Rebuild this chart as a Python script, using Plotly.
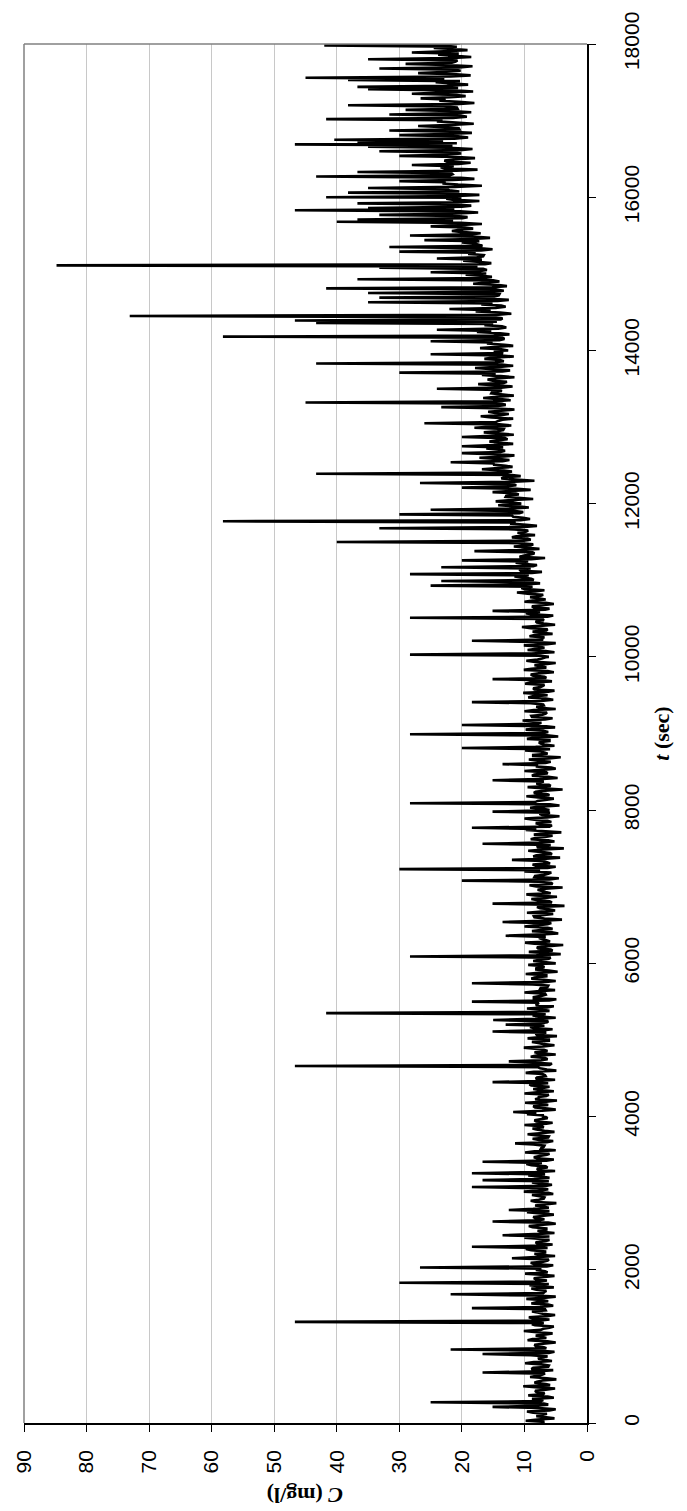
import numpy as np
import plotly.graph_objects as go

# Sampling: main readings every 30 s; intermediate readings 15 s later
T_STEP = 30
T_MID = 15

# C (mg/l) main readings, one list per 2000 s block
c_0000 = [7.5, 9.8, 5.2, 8.1, 6.4, 9.6, 5.0, 15.1, 6.2, 25.0, 7.0, 5.3, 9.4, 6.8, 8.3, 5.1, 10.2, 6.6, 8.0, 4.9,
          9.1, 7.2, 16.7, 5.4, 8.6, 6.1, 9.9, 5.6, 7.8, 6.3, 16.7, 5.2, 21.8, 6.9, 8.4, 5.0, 9.5, 6.5, 8.2, 5.5,
          10.1, 7.0, 5.3, 8.8, 46.7, 6.0, 9.3, 5.1, 7.7, 6.6, 18.4, 5.4, 8.9, 6.2, 9.7, 5.0, 21.8, 6.8, 8.1, 5.3,
          9.2, 30.0, 6.4, 8.5, 5.2, 9.9, 6.7]
c_2000 = [8.0, 26.7, 5.4, 9.0, 6.3, 12.0, 5.1, 8.4, 6.7, 9.8, 18.4, 5.5, 8.2, 6.0, 10.0, 13.5, 5.2, 7.9, 6.5, 9.3,
          5.0, 15.1, 6.8, 8.6, 5.3, 9.6, 12.5, 6.1, 8.3, 4.9, 9.0, 6.9, 7.6, 5.4, 10.1, 6.2, 18.4, 5.6, 8.8, 16.7,
          6.0, 9.4, 18.4, 5.1, 8.0, 6.6, 9.7, 16.7, 5.3, 8.5, 6.4, 9.9, 5.0, 7.3, 6.8, 11.5, 5.4, 8.7, 6.1, 9.5,
          5.2, 8.1, 6.9, 10.0, 5.5, 8.4, 6.3]
c_4000 = [7.2, 9.6, 11.8, 5.0, 8.3, 6.2, 9.9, 4.8, 7.7, 6.5, 10.0, 5.3, 8.6, 6.0, 9.2, 15.1, 5.1, 8.0, 6.7, 9.8,
          4.9, 7.5, 46.7, 5.6, 12.5, 6.3, 9.0, 5.0, 8.4, 6.9, 10.1, 5.2, 7.8, 6.1, 9.5, 4.8, 8.2, 15.1, 5.5, 9.1,
          13.0, 6.4, 15.0, 5.0, 8.7, 41.7, 6.0, 9.6, 5.3, 7.9, 18.4, 4.9, 8.5, 6.6, 10.0, 5.1, 7.4, 6.2, 18.4, 5.0,
          8.9, 6.5, 9.8, 4.7, 8.1, 6.8, 9.4]
c_6000 = [5.0, 8.6, 6.1, 28.3, 4.2, 9.3, 5.8, 8.0, 3.8, 9.9, 6.5, 7.7, 13.0, 4.6, 8.8, 5.5, 10.0, 6.3, 13.5, 4.0,
          8.4, 6.8, 9.6, 5.1, 7.5, 3.6, 15.1, 6.0, 8.9, 4.8, 9.7, 6.6, 7.9, 3.9, 9.2, 5.7, 20.0, 4.5, 8.3, 6.2,
          10.0, 30.0, 5.0, 8.7, 6.4, 12.0, 4.3, 8.1, 5.9, 9.4, 3.7, 7.8, 16.7, 5.2, 9.0, 6.7, 8.5, 4.1, 9.8, 18.4,
          5.6, 8.2, 6.3, 10.0, 4.4, 7.6, 15.1]
c_8000 = [6.0, 9.1, 4.4, 28.3, 7.9, 5.3, 9.7, 6.5, 8.2, 3.9, 9.5, 6.1, 7.6, 15.1, 4.7, 8.8, 6.3, 10.0, 5.0, 8.0,
          13.5, 5.8, 9.3, 4.2, 8.6, 6.7, 9.9, 20.0, 5.2, 7.4, 6.0, 9.6, 4.6, 28.3, 6.2, 9.8, 5.1, 20.0, 7.3, 10.3,
          5.5, 8.9, 6.6, 10.0, 5.0, 8.1, 7.0, 18.4, 5.4, 9.4, 6.3, 10.2, 5.2, 8.6, 7.1, 9.9, 5.6, 15.1, 6.8, 9.0,
          5.3, 10.1, 6.5, 8.4, 5.0, 9.7, 7.2]
c_10000 = [6.1, 28.3, 5.2, 9.5, 6.8, 10.1, 5.0, 18.4, 7.4, 9.2, 5.5, 8.7, 6.3, 10.4, 5.1, 8.0, 6.9, 28.3, 5.4, 9.8,
           15.1, 6.0, 8.8, 5.3, 10.0, 6.6, 9.1, 7.0, 11.2, 6.8, 10.5, 25.0, 7.5, 23.3, 8.9, 11.6, 28.3, 7.2, 10.8, 23.3,
           8.0, 11.4, 20.0, 6.7, 10.2, 8.4, 18.0, 7.6, 11.7, 8.6, 40.0, 9.0, 12.0, 8.3, 11.1, 9.4, 33.2, 8.0, 12.3, 58.2,
           9.1, 11.8, 30.0, 10.2, 25.0, 9.3, 14.2]
c_12000 = [10.5, 14.6, 8.6, 13.0, 10.9, 15.1, 9.0, 20.0, 11.3, 26.7, 8.4, 13.7, 10.6, 43.3, 12.0, 16.8, 11.9, 15.0, 21.8, 12.4,
           17.2, 11.6, 20.0, 13.1, 16.1, 20.0, 11.8, 15.6, 12.7, 20.0, 11.7, 16.5, 13.4, 18.0, 12.1, 26.0, 14.2, 11.8, 17.0, 12.5,
           15.8, 11.6, 23.3, 13.0, 45.0, 12.2, 16.6, 11.7, 15.3, 13.6, 24.0, 11.9, 17.4, 12.8, 15.9, 11.6, 16.8, 30.0, 12.3, 17.9,
           11.8, 43.3, 13.3, 16.4, 11.7, 25.0, 14.0]
c_14000 = [12.6, 17.1, 11.8, 16.0, 25.0, 13.2, 58.2, 12.4, 17.6, 24.0, 12.9, 16.4, 43.3, 46.7, 13.5, 73.1, 12.1, 17.8, 22.0, 13.0,
           16.9, 35.0, 12.5, 33.2, 14.1, 35.0, 13.3, 41.7, 12.8, 18.2, 14.0, 36.7, 15.2, 19.4, 25.0, 16.0, 33.2, 84.8, 15.3, 19.8,
           24.0, 16.6, 19.0, 30.0, 15.1, 31.6, 17.3, 20.0, 26.0, 15.5, 28.3, 17.0, 21.6, 18.2, 25.0, 16.8, 40.0, 36.7, 19.1, 33.2,
           17.4, 46.7, 35.0, 18.5, 36.7, 17.2, 22.5]
c_16000 = [41.7, 17.2, 38.2, 22.0, 35.0, 16.8, 23.1, 30.0, 18.0, 43.3, 21.5, 36.7, 17.5, 23.4, 28.0, 18.6, 22.8, 17.9, 30.0, 20.1,
           33.2, 18.3, 35.0, 46.7, 36.7, 40.4, 19.0, 30.0, 18.4, 31.6, 20.5, 27.0, 18.1, 24.0, 41.7, 19.2, 31.6, 18.5, 29.0, 20.8,
           38.2, 18.0, 23.6, 26.6, 19.4, 28.0, 18.2, 35.0, 36.7, 19.0, 24.2, 38.2, 45.0, 18.6, 27.0, 20.2, 33.2, 18.3, 29.0, 21.0,
           35.0, 18.5, 23.8, 28.0, 19.1, 24.5, 42.0, 20.3]

# C (mg/l) intermediate readings (15 s after each main reading)
m_0000 = [6.8, 7.9, 6.5, 7.2, 8.6, 6.0, 7.7, 8.3, 6.9, 7.4, 8.8, 6.3, 7.0, 8.1, 6.6, 7.8, 5.9, 8.4, 7.1, 6.4,
          8.0, 6.7, 7.5, 8.9, 6.2, 7.3, 8.5, 6.8, 7.6, 9.0, 6.1, 7.9, 6.5, 8.2, 7.0, 6.3, 8.7, 7.2, 6.6, 8.0,
          7.4, 6.0, 8.3, 6.9, 7.7, 8.6, 6.4, 7.1, 8.8, 6.7, 7.5, 6.2, 8.1, 7.3, 6.6, 8.4, 7.0, 6.5, 8.9, 7.6,
          6.1, 7.8, 8.2, 6.8, 7.4, 6.3, 8.0]
m_2000 = [7.3, 6.4, 8.5, 7.0, 6.1, 8.2, 7.6, 6.7, 8.9, 6.3, 7.1, 8.0, 6.6, 7.8, 6.0, 8.4, 7.2, 6.5, 8.7, 7.5,
          6.2, 7.9, 8.3, 6.9, 7.4, 6.0, 8.6, 7.1, 6.4, 8.1, 7.7, 6.8, 8.8, 6.2, 7.3, 8.0, 6.6, 7.5, 6.1, 8.5,
          7.0, 6.7, 8.2, 7.8, 6.3, 8.9, 7.2, 6.5, 8.0, 7.6, 6.0, 8.4, 7.4, 6.9, 8.6, 6.4, 7.7, 6.2, 8.3, 7.1,
          6.8, 8.7, 7.3, 6.5, 8.1, 7.5, 6.6]
m_4000 = [6.9, 8.1, 7.2, 6.3, 8.6, 7.0, 6.5, 8.3, 7.7, 6.1, 8.0, 7.4, 6.8, 8.9, 6.2, 7.6, 8.2, 6.6, 7.1, 8.5,
          6.4, 7.9, 6.0, 8.7, 7.3, 6.7, 8.1, 7.5, 6.3, 8.4, 7.0, 6.9, 8.8, 6.1, 7.8, 8.0, 6.5, 7.2, 8.6, 6.8,
          7.6, 6.2, 8.3, 7.4, 6.6, 8.9, 7.1, 6.4, 8.2, 7.7, 6.0, 8.5, 7.3, 6.7, 8.0, 7.5, 6.3, 8.7, 7.0, 6.9,
          8.4, 6.5, 7.8, 6.1, 8.1, 7.2, 6.6]
m_6000 = [6.5, 7.6, 5.8, 8.1, 6.9, 5.5, 7.8, 6.2, 8.4, 5.9, 7.1, 6.6, 8.0, 5.6, 7.4, 6.3, 8.2, 5.7, 7.0, 6.8,
          8.5, 5.4, 7.3, 6.1, 8.0, 6.7, 5.6, 7.9, 6.4, 8.3, 5.8, 7.2, 6.6, 8.1, 5.5, 7.7, 6.0, 8.4, 6.9, 5.7,
          7.5, 6.3, 8.2, 5.9, 7.0, 6.5, 8.6, 5.6, 7.4, 6.8, 8.0, 5.8, 7.7, 6.2, 8.3, 5.5, 7.1, 6.6, 8.1, 6.0,
          7.6, 5.7, 8.4, 6.4, 7.2, 5.9, 8.0]
m_8000 = [6.8, 7.5, 5.9, 8.3, 6.4, 7.8, 6.0, 8.5, 6.7, 7.2, 5.8, 8.1, 6.9, 7.6, 6.2, 8.4, 6.5, 7.3, 5.7, 8.0,
          6.6, 7.9, 6.1, 8.6, 6.3, 7.4, 5.9, 8.2, 6.8, 7.7, 6.0, 8.5, 6.4, 7.1, 7.0, 8.6, 6.5, 7.9, 8.2, 6.7,
          8.8, 7.1, 6.4, 8.5, 7.6, 6.9, 9.0, 7.3, 6.6, 8.7, 7.8, 6.2, 8.4, 7.5, 6.8, 9.1, 7.0, 6.5, 8.6, 7.7,
          6.3, 8.9, 7.2, 6.7, 8.3, 7.9, 6.6]
m_10000 = [7.4, 8.9, 6.6, 8.1, 7.7, 6.4, 8.6, 7.0, 6.8, 8.4, 7.3, 6.5, 9.0, 7.6, 6.9, 8.2, 7.1, 6.3, 8.8, 7.5,
           6.7, 8.5, 7.2, 6.6, 8.7, 7.8, 7.5, 9.5, 8.3, 9.9, 8.7, 10.4, 9.1, 8.5, 10.1, 9.3, 8.8, 10.6, 9.0, 8.6,
           10.3, 9.4, 8.9, 10.8, 9.2, 8.7, 10.5, 9.6, 9.0, 11.0, 10.1, 9.5, 11.3, 10.4, 9.8, 11.6, 10.0, 9.7, 11.4, 10.6,
           10.2, 12.0, 10.8, 11.5, 12.4, 11.0, 12.2]
m_12000 = [11.8, 12.6, 11.0, 12.9, 11.5, 12.3, 11.2, 13.1, 11.9, 12.5, 11.4, 13.3, 12.0, 12.8, 13.6, 14.2, 13.0, 14.8, 13.5, 14.4,
           13.2, 15.0, 13.8, 14.1, 13.4, 14.9, 13.7, 14.5, 13.1, 15.2, 13.9, 14.3, 13.3, 15.1, 14.0, 14.6, 13.5, 15.3, 13.8, 14.7,
           13.2, 14.9, 14.2, 13.6, 15.0, 13.9, 14.4, 13.4, 15.2, 14.1, 13.7, 14.8, 13.3, 15.1, 14.3, 13.8, 14.6, 13.5, 15.0, 14.0,
           13.6, 14.7, 13.9, 15.2, 14.1, 13.4, 14.9]
m_14000 = [13.7, 14.8, 13.2, 15.1, 14.0, 13.5, 14.9, 13.9, 15.3, 14.2, 13.6, 15.0, 14.4, 13.8, 15.2, 14.1, 13.9, 15.4, 14.6, 13.7,
           15.1, 14.3, 15.6, 14.8, 14.0, 15.8, 14.5, 15.2, 14.1, 15.9, 15.0, 16.4, 17.0, 16.1, 17.3, 16.6, 17.5, 16.3, 17.1, 16.8,
           17.6, 16.5, 17.8, 16.9, 17.4, 16.7, 18.0, 17.2, 18.3, 17.7, 18.6, 19.8, 20.4, 19.5, 21.0, 20.2, 21.4, 19.9, 20.8, 21.6,
           20.3, 21.2, 20.0, 21.8, 20.6, 21.3, 20.1]
m_16000 = [20.8, 21.9, 20.4, 22.3, 21.1, 20.6, 22.6, 21.4, 20.2, 22.0, 21.7, 20.9, 22.8, 21.3, 20.5, 22.4, 21.0, 20.7, 22.9, 21.6,
           20.3, 22.2, 21.5, 20.8, 23.0, 21.2, 20.6, 22.5, 21.8, 20.4, 22.7, 21.1, 20.9, 23.1, 21.4, 20.2, 22.3, 21.7, 20.7, 22.9,
           21.0, 20.5, 22.6, 21.9, 20.8, 23.2, 21.3, 20.6, 22.4, 21.5, 20.3, 22.8, 21.8, 20.9, 23.0, 21.2, 20.4, 22.5, 21.6, 20.7,
           22.2, 21.1, 20.5, 22.9, 21.4, 20.8, 22.1]

blocks = [(0, c_0000, m_0000), (2000, c_2000, m_2000), (4000, c_4000, m_4000),
          (6000, c_6000, m_6000), (8000, c_8000, m_8000), (10000, c_10000, m_10000),
          (12000, c_12000, m_12000), (14000, c_14000, m_14000), (16000, c_16000, m_16000)]

T_END = 18000
t_vals, c_vals = [], []
for start, main, mid in blocks:
    for i, v in enumerate(main):
        t = start + i * T_STEP
        t_vals.append(t)
        c_vals.append(v)
        if i < len(mid) and t + T_MID <= T_END:
            t_vals.append(t + T_MID)
            c_vals.append(mid[i])

c_ticks = [0, 10, 20, 30, 40, 50, 60, 70, 80, 90]
t_ticks = [0, 2000, 4000, 6000, 8000, 10000, 12000, 14000, 16000, 18000]

tick_font = dict(family="Arial, Liberation Sans, sans-serif", size=21, color="black")
title_font = dict(family="Times New Roman, Liberation Serif, serif", size=22, color="black")

fig = go.Figure()
fig.add_trace(go.Scatter(x=c_vals, y=t_vals, mode="lines",
                         line=dict(color="black", width=2.6, simplify=False), showlegend=False,
                         hoverinfo="skip"))

fig.update_layout(
    width=687, height=1511,
    margin=dict(l=20, r=100, t=39, b=88),
    paper_bgcolor="white", plot_bgcolor="white",
    xaxis=dict(range=[90, 0], tickvals=c_ticks, ticktext=[str(v) for v in c_ticks],
               tickangle=-90, ticks="outside", ticklen=7, tickcolor="black", tickwidth=1,
               showline=True, linecolor="black", linewidth=1.5,
               showgrid=True, gridcolor="#c8c8c8", gridwidth=1, zeroline=False,
               tickfont=tick_font, ticklabelstandoff=10),
    yaxis=dict(range=[0, 18000], side="right", tickvals=t_ticks, ticktext=[str(v) for v in t_ticks],
               tickangle=-90, ticks="outside", ticklen=7, tickcolor="black", tickwidth=1,
               showline=True, linecolor="black", linewidth=1.5,
               showgrid=False, zeroline=False, tickfont=tick_font, ticklabelstandoff=18,
               title=dict(text="<b><i>t</i> (sec)</b>", font=title_font, standoff=12)),
)

# gray plot-area border on top and left
fig.add_shape(type="line", xref="paper", yref="paper", x0=0, x1=1, y0=1, y1=1,
              line=dict(color="#808080", width=1.5))
fig.add_shape(type="line", xref="paper", yref="paper", x0=0, x1=0, y0=0, y1=1,
              line=dict(color="#808080", width=1.5))

# y-axis title of the (rotated) original chart: upside down at the bottom
fig.add_annotation(text="<b><i>C</i> (mg/l)</b>", xref="paper", yref="paper",
                   x=0.5, y=-0.053, textangle=180, showarrow=False,
                   font=title_font, xanchor="center", yanchor="middle")

fig.write_html("out.html")
